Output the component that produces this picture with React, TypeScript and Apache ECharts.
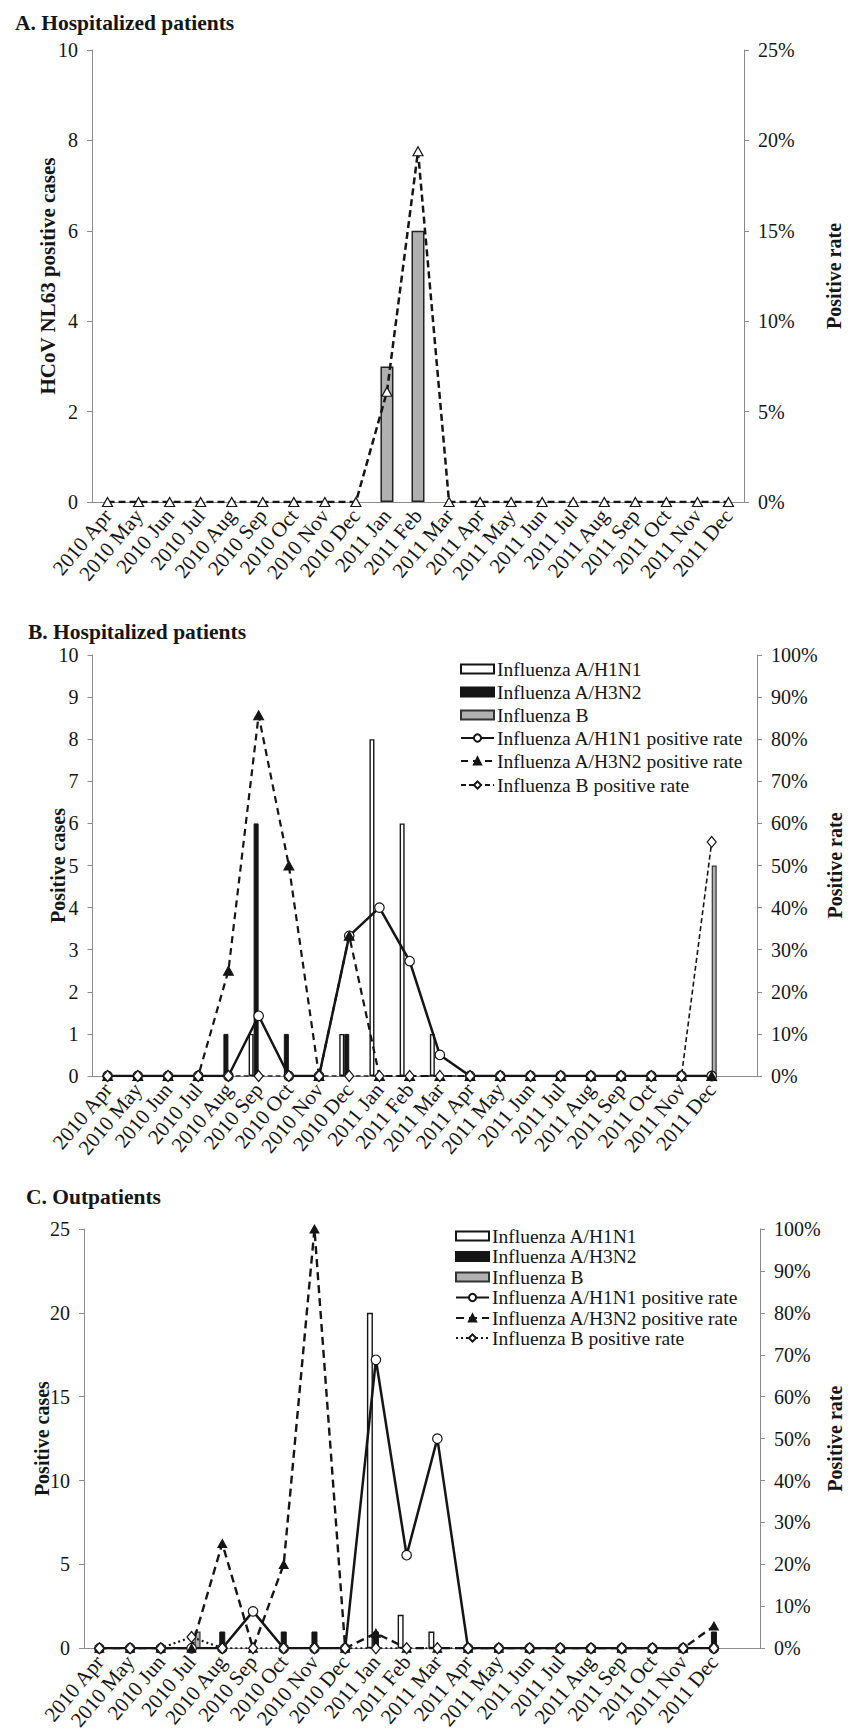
import React, { useEffect, useRef } from 'react';
import * as echarts from 'echarts';

const months = ['2010 Apr', '2010 May', '2010 Jun', '2010 Jul', '2010 Aug', '2010 Sep', '2010 Oct', '2010 Nov', '2010 Dec', '2011 Jan', '2011 Feb', '2011 Mar', '2011 Apr', '2011 May', '2011 Jun', '2011 Jul', '2011 Aug', '2011 Sep', '2011 Oct', '2011 Nov', '2011 Dec'];
const monthsExtra = [...months, ''];

// A. Hospitalized patients – HCoV NL63
const nl63Cases = [0, 0, 0, 0, 0, 0, 0, 0, 0, 3, 6, 0, 0, 0, 0, 0, 0, 0, 0, 0, 0];
const nl63Rate = [0, 0, 0, 0, 0, 0, 0, 0, 0, 6.1, 19.4, 0, 0, 0, 0, 0, 0, 0, 0, 0, 0];

// B. Hospitalized patients – influenza
const hospH1N1 = [0, 0, 0, 0, 0, 1, 0, 0, 1, 8, 6, 1, 0, 0, 0, 0, 0, 0, 0, 0, 0];
const hospH3N2 = [0, 0, 0, 0, 1, 6, 1, 0, 1, 0, 0, 0, 0, 0, 0, 0, 0, 0, 0, 0, 0];
const hospB = [0, 0, 0, 0, 0, 0, 0, 0, 0, 0, 0, 0, 0, 0, 0, 0, 0, 0, 0, 0, 5];
const hospH1N1Rate = [0, 0, 0, 0, 0, 14.3, 0, 0, 33.3, 40, 27.3, 5, 0, 0, 0, 0, 0, 0, 0, 0, 0];
const hospH3N2Rate = [0, 0, 0, 0, 25, 85.7, 50, 0, 33.3, 0, 0, 0, 0, 0, 0, 0, 0, 0, 0, 0, 0];
const hospBRate = [0, 0, 0, 0, 0, 0, 0, 0, 0, 0, 0, 0, 0, 0, 0, 0, 0, 0, 0, 0, 55.6];

// C. Outpatients – influenza
const outH1N1 = [0, 0, 0, 0, 0, 0, 0, 0, 0, 20, 2, 1, 0, 0, 0, 0, 0, 0, 0, 0, 0];
const outH3N2 = [0, 0, 0, 0, 1, 0, 1, 1, 0, 1, 0, 0, 0, 0, 0, 0, 0, 0, 0, 0, 1];
const outB = [0, 0, 0, 1, 0, 0, 0, 0, 0, 0, 0, 0, 0, 0, 0, 0, 0, 0, 0, 0, 0];
const outH1N1Rate = [0, 0, 0, 0, 0, 8.8, 0, 0, 0, 68.8, 22.2, 50, 0, 0, 0, 0, 0, 0, 0, 0, 0];
const outH3N2Rate = [0, 0, 0, 0, 25, 0, 20, 100, 0, 3.6, 0, 0, 0, 0, 0, 0, 0, 0, 0, 0, 5.3];
const outBRate = [0, 0, 0, 2.7, 0, 0, 0, 0, 0, 0, 0, 0, 0, 0, 0, 0, 0, 0, 0, 0, 0];

const FONT = '"Liberation Serif", "Times New Roman", Times, serif';
const AX = '#8c8c8c';
const INK = '#151515';
const GRAYFILL = '#b0b0b0';

const bars = (arr: number[]) => arr.map((v) => (v === 0 ? null : v));

function xAxis(grid: number, data: string[]) {
  return {
    type: 'category', gridIndex: grid, data, boundaryGap: true,
    axisLine: { show: true, lineStyle: { color: AX, width: 1 } },
    axisTick: { show: false },
    axisLabel: { interval: 0, rotate: 50, margin: 10, fontSize: 21, fontFamily: FONT, color: INK, hideOverlap: false },
  };
}

function yAxis(grid: number, pos: 'left' | 'right', max: number, interval: number, name: string, nameGap: number, nameSize: number, pct: boolean) {
  return {
    type: 'value', gridIndex: grid, position: pos, min: 0, max, interval,
    axisLine: { show: true, lineStyle: { color: AX, width: 1 } },
    axisTick: { show: true, length: 5, lineStyle: { color: AX } },
    splitLine: { show: false },
    axisLabel: { margin: 14, fontSize: 20, fontFamily: FONT, color: INK, formatter: pct ? '{value}%' : '{value}' },
    name, nameLocation: 'middle', nameRotate: 90, nameGap, nameMoveOverlap: false,
    nameTextStyle: { fontSize: nameSize, fontWeight: 'bold', fontFamily: FONT, color: INK },
  };
}

function legendItem(name: string, left: number, centerY: number, isBar: boolean) {
  return {
    left, top: centerY - 10, padding: 0, itemWidth: 33, itemHeight: 9, selectedMode: false,
    data: [isBar ? { name, icon: 'rect' } : { name }],
    formatter: (n: string) => n.replace(/^C\|/, ''),
    textStyle: { fontSize: 19.5, fontFamily: FONT, color: INK, padding: [0, 0, 0, -2] },
  };
}

const legB = ['Influenza A/H1N1', 'Influenza A/H3N2', 'Influenza B', 'Influenza A/H1N1 positive rate', 'Influenza A/H3N2 positive rate', 'Influenza B positive rate'];
const legC = legB.map((n) => 'C|' + n);

const option: any = {
  animation: false,
  backgroundColor: '#ffffff',
  textStyle: { fontFamily: FONT },
  title: [
    { text: 'A. Hospitalized patients', left: 10, top: 7, textStyle: { fontFamily: FONT, fontSize: 21.5, fontWeight: 'bold', color: INK } },
    { text: 'B. Hospitalized patients', left: 23, top: 616, textStyle: { fontFamily: FONT, fontSize: 21.5, fontWeight: 'bold', color: INK } },
    { text: 'C. Outpatients', left: 21, top: 1181, textStyle: { fontFamily: FONT, fontSize: 21.5, fontWeight: 'bold', color: INK } },
  ],
  grid: [
    { left: 92, top: 50, width: 652, height: 452 },
    { left: 92.5, top: 655, width: 682, height: 421 },
    { left: 84, top: 1229, width: 677, height: 423 },
  ],
  xAxis: [xAxis(0, months), xAxis(1, monthsExtra), xAxis(2, monthsExtra)],
  yAxis: [
    yAxis(0, 'left', 10, 2, 'HCoV NL63 positive cases', 34, 21, false),
    yAxis(0, 'right', 25, 5, 'Positive rate', 80, 20, true),
    yAxis(1, 'left', 10, 1, 'Positive cases', 25, 20, false),
    yAxis(1, 'right', 100, 10, 'Positive rate', 68, 20, true),
    yAxis(2, 'left', 25, 5, 'Positive cases', 32, 20, false),
    yAxis(2, 'right', 100, 10, 'Positive rate', 65, 20, true),
  ],
  legend: [
    legendItem(legB[0], 460, 669, true),
    legendItem(legB[1], 460, 692, true),
    legendItem(legB[2], 460, 715, true),
    legendItem(legB[3], 460, 738, false),
    legendItem(legB[4], 460, 761, false),
    legendItem(legB[5], 460, 785, false),
    legendItem(legC[0], 455, 1236, true),
    legendItem(legC[1], 455, 1256.5, true),
    legendItem(legC[2], 455, 1277, true),
    legendItem(legC[3], 455, 1297.5, false),
    legendItem(legC[4], 455, 1318, false),
    legendItem(legC[5], 455, 1338, false),
  ],
  series: [
    // A
    { name: 'HCoV NL63 positive cases', type: 'bar', xAxisIndex: 0, yAxisIndex: 0, data: bars(nl63Cases), barWidth: 13,
      itemStyle: { color: GRAYFILL, borderColor: '#222', borderWidth: 1.5 } },
    { name: 'HCoV NL63 positive rate', type: 'line', xAxisIndex: 0, yAxisIndex: 1, data: nl63Rate,
      symbol: 'triangle', symbolSize: [10, 9], itemStyle: { color: '#fff', borderColor: INK, borderWidth: 1.2 },
      lineStyle: { color: INK, width: 2.5, type: [7, 4] } },
    // B bars
    { name: legB[0], type: 'bar', xAxisIndex: 1, yAxisIndex: 2, data: bars(hospH1N1), barWidth: 5, barGap: '0%',
      itemStyle: { color: '#fff', borderColor: INK, borderWidth: 1.4 } },
    { name: legB[1], type: 'bar', xAxisIndex: 1, yAxisIndex: 2, data: bars(hospH3N2), barWidth: 5, barGap: '0%',
      itemStyle: { color: INK, borderColor: INK, borderWidth: 1 } },
    { name: legB[2], type: 'bar', xAxisIndex: 1, yAxisIndex: 2, data: bars(hospB), barWidth: 5, barGap: '0%',
      itemStyle: { color: GRAYFILL, borderColor: '#333', borderWidth: 1.2 } },
    { name: 'B-slot', type: 'bar', xAxisIndex: 1, yAxisIndex: 2, data: hospB.map(() => null), barWidth: 5, barGap: '0%' },
    // B lines
    { name: legB[3], type: 'line', xAxisIndex: 1, yAxisIndex: 3, data: hospH1N1Rate,
      symbol: 'circle', symbolSize: 9.5, itemStyle: { color: '#fff', borderColor: INK, borderWidth: 1.2 },
      lineStyle: { color: INK, width: 2.5, type: 'solid' } },
    { name: legB[4], type: 'line', xAxisIndex: 1, yAxisIndex: 3, data: hospH3N2Rate,
      symbol: 'triangle', symbolSize: [10, 9], itemStyle: { color: INK, borderColor: INK, borderWidth: 1 },
      lineStyle: { color: INK, width: 2.2, type: [7, 5] } },
    { name: legB[5], type: 'line', xAxisIndex: 1, yAxisIndex: 3, data: hospBRate,
      symbol: 'diamond', symbolSize: [9, 11], itemStyle: { color: '#fff', borderColor: INK, borderWidth: 1.2 },
      lineStyle: { color: INK, width: 1.6, type: [5, 3] } },
    // C bars
    { name: legC[0], type: 'bar', xAxisIndex: 2, yAxisIndex: 4, data: bars(outH1N1), barWidth: 6, barGap: '0%',
      itemStyle: { color: '#fff', borderColor: INK, borderWidth: 1.4 } },
    { name: legC[1], type: 'bar', xAxisIndex: 2, yAxisIndex: 4, data: bars(outH3N2), barWidth: 6, barGap: '0%',
      itemStyle: { color: INK, borderColor: INK, borderWidth: 1 } },
    { name: legC[2], type: 'bar', xAxisIndex: 2, yAxisIndex: 4, data: bars(outB), barWidth: 6, barGap: '0%',
      itemStyle: { color: GRAYFILL, borderColor: '#333', borderWidth: 1.2 } },
    // C lines
    { name: legC[3], type: 'line', xAxisIndex: 2, yAxisIndex: 5, data: outH1N1Rate,
      symbol: 'circle', symbolSize: 9.5, itemStyle: { color: '#fff', borderColor: INK, borderWidth: 1.2 },
      lineStyle: { color: INK, width: 2.5, type: 'solid' } },
    { name: legC[4], type: 'line', xAxisIndex: 2, yAxisIndex: 5, data: outH3N2Rate,
      symbol: 'triangle', symbolSize: [9, 8], itemStyle: { color: INK, borderColor: INK, borderWidth: 1 },
      lineStyle: { color: INK, width: 2.4, type: [8, 5] } },
    { name: legC[5], type: 'line', xAxisIndex: 2, yAxisIndex: 5, data: outBRate,
      symbol: 'diamond', symbolSize: [9, 11], itemStyle: { color: '#fff', borderColor: INK, borderWidth: 1.3 },
      lineStyle: { color: INK, width: 2.2, type: [2, 3] } },
  ],
};

export default function App() {
  const ref = useRef<HTMLDivElement>(null);
  useEffect(() => {
    if (!ref.current) return;
    const chart = echarts.init(ref.current, null, { renderer: 'svg' });
    chart.setOption(option);
    return () => chart.dispose();
  }, []);
  return (
    <div
      ref={ref}
      style={{ position: 'absolute', left: 0, top: 0, width: 853, height: 1733, background: '#ffffff' }}
    />
  );
}
